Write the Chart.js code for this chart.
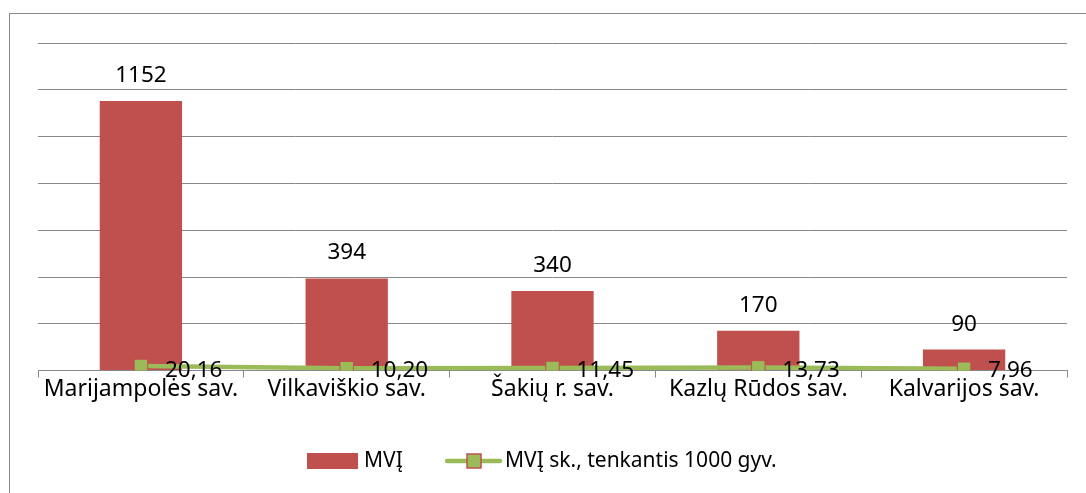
<!DOCTYPE html>
<html>
<head>
<meta charset="utf-8">
<script src="https://cdn.jsdelivr.net/npm/chart.js@4/dist/chart.umd.min.js"></script>
<style>
  html, body { margin: 0; padding: 0; background: #fff; }
  #wrap { width: 1086px; height: 493px; position: relative; }
</style>
</head>
<body>
<div id="wrap"><canvas id="myChart" width="1086" height="493"></canvas></div>
<script>
// Duomenys
const categories = ['Marijampolės sav.', 'Vilkaviškio sav.', 'Šakių r. sav.', 'Kazlų Rūdos sav.', 'Kalvarijos sav.'];
const mvjCount = [1152, 394, 340, 170, 90];
const mvjPer1000 = [20.16, 10.20, 11.45, 13.73, 7.96];
const seriesNames = ['MVĮ', 'MVĮ sk., tenkantis 1000 gyv.'];

const RED = '#C0504D';
const GREEN = '#9BBB59';
const FONT = '"Noto Sans", sans-serif';

// Reikšmių etiketės ir legenda
const labelsPlugin = {
    id: 'labelsPlugin',
    afterDatasetsDraw(chart) {
        const ctx = chart.ctx;
        const bottom = chart.chartArea.bottom;
        ctx.save();
        ctx.fillStyle = '#000';
        ctx.font = '22.5px ' + FONT;
        ctx.textBaseline = 'alphabetic';
        // stulpeliai
        ctx.textAlign = 'center';
        chart.getDatasetMeta(1).data.forEach((bar, i) => {
            ctx.fillText(String(mvjCount[i]), bar.x, bar.y - 19);
        });
        // linija
        ctx.textAlign = 'left';
        chart.getDatasetMeta(0).data.forEach((pt, i) => {
            ctx.fillText(mvjPer1000[i].toFixed(2).replace('.', ','), pt.x + 24, bottom + 6);
        });
        ctx.restore();
    },
    afterDraw(chart) {
        const ctx = chart.ctx;
        ctx.save();
        // rėmelis
        ctx.strokeStyle = '#888';
        ctx.lineWidth = 1;
        ctx.strokeRect(9.5, 13.5, 1200, 600);
        // legenda
        const ly = 461;
        ctx.fillStyle = RED;
        ctx.fillRect(307, ly - 8, 51, 16);
        ctx.fillStyle = '#000';
        ctx.font = '21px ' + FONT;
        ctx.textAlign = 'left';
        ctx.textBaseline = 'middle';
        ctx.fillText(seriesNames[0], 364, ly);
        ctx.strokeStyle = GREEN;
        ctx.lineWidth = 4.5;
        ctx.lineCap = 'round';
        ctx.beginPath();
        ctx.moveTo(447, ly);
        ctx.lineTo(500, ly);
        ctx.stroke();
        ctx.fillStyle = GREEN;
        ctx.fillRect(467, ly - 7, 14, 14);
        ctx.strokeStyle = RED;
        ctx.lineWidth = 1.5;
        ctx.strokeRect(467, ly - 7, 14, 14);
        ctx.fillStyle = '#000';
        ctx.fillText(seriesNames[1], 505, ly);
        ctx.restore();
    }
};

new Chart(document.getElementById('myChart'), {
    data: {
        labels: categories,
        datasets: [
            {
                type: 'line',
                label: seriesNames[1],
                data: mvjPer1000,
                borderColor: GREEN,
                borderWidth: 4.5,
                pointStyle: 'rect',
                pointRadius: 9.5,
                pointBackgroundColor: GREEN,
                pointBorderColor: RED,
                pointBorderWidth: 1,
                tension: 0,
                order: 0
            },
            {
                type: 'bar',
                label: seriesNames[0],
                data: mvjCount,
                backgroundColor: RED,
                categoryPercentage: 0.4,
                barPercentage: 1,
                order: 1
            }
        ]
    },
    options: {
        responsive: false,
        animation: false,
        layout: { padding: { left: 38, right: 19, top: 43, bottom: 91 } },
        plugins: {
            legend: { display: false },
            tooltip: { enabled: false }
        },
        scales: {
            x: {
                offset: true,
                grid: {
                    offset: true,
                    drawOnChartArea: false,
                    drawTicks: true,
                    tickLength: 7,
                    color: '#888'
                },
                border: { color: '#888' },
                ticks: {
                    color: '#000',
                    font: { family: FONT, size: 23, lineHeight: 0.8 },
                    padding: 3,
                    maxRotation: 0
                }
            },
            y: {
                min: 0,
                max: 1400,
                ticks: { display: false, stepSize: 200 },
                grid: { color: '#888', drawTicks: false },
                border: { display: false }
            }
        }
    },
    plugins: [labelsPlugin]
});
</script>
</body>
</html>
